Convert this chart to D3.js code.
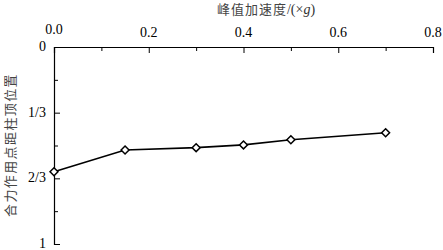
<!DOCTYPE html>
<html>
<head>
<meta charset="utf-8">
<script src="https://cdn.jsdelivr.net/npm/d3@7"></script>
<style>
body { margin: 0; background: #fff; }
svg { display: block; }
.num { font-family: "Liberation Serif", "Times New Roman", "DejaVu Serif", serif; font-size: 14px; }
.cjk { font-family: "Noto Sans CJK SC", sans-serif; font-size: 13px; }
</style>
</head>
<body>
<script>
var accel = [0, 0.15, 0.3, 0.4, 0.5, 0.7];
var position = [0.633, 0.523, 0.511, 0.497, 0.471, 0.435];
var xTicks = [0, 0.2, 0.4, 0.6, 0.8];
var xMinor = [0.1, 0.3, 0.5, 0.7];
var yTicks = [0, 1/3, 2/3, 1];
var yTickLabels = ["0", "1/3", "2/3", "1"];
var yMinor = [1/6, 1/2, 5/6];

var width = 443, height = 250;
var plotLeft = 54, plotRight = 433, plotTop = 47, plotBottom = 244;

var svg = d3.select("body").append("svg").attr("width", width).attr("height", height);

var x = d3.scaleLinear().domain([0, 0.8]).range([plotLeft, plotRight]);
var y = d3.scaleLinear().domain([0, 1]).range([plotTop, plotBottom]);

// x axis on top, ticks pointing in
var xAxisGroup = svg.append("g").attr("transform", "translate(0," + plotTop + ")");
xAxisGroup.call(d3.axisBottom(x).tickValues(xTicks).tickSize(6).tickFormat(""));
xAxisGroup.append("g").call(d3.axisBottom(x).tickValues(xMinor).tickSize(4).tickFormat(""));
xAxisGroup.selectAll("g g .domain").remove();
xAxisGroup.selectAll(".domain").attr("stroke", "#000").attr("stroke-width", 1.2);
xAxisGroup.selectAll("line").attr("stroke", "#000").attr("stroke-width", 1);

svg.append("g").selectAll("text").data(xTicks).enter().append("text")
	.attr("class", "num")
	.attr("x", function(d){return x(d);})
	.attr("y", function(d){return d === 0 ? 34 : 37;})
	.attr("text-anchor", "middle")
	.attr("fill", "#000")
	.text(function(d){return d3.format(".1f")(d);});

// y axis on left, ticks pointing in
var yAxisGroup = svg.append("g").attr("transform", "translate(" + plotLeft + ",0)");
yAxisGroup.call(d3.axisRight(y).tickValues(yTicks).tickSize(6).tickFormat(""));
yAxisGroup.append("g").call(d3.axisRight(y).tickValues(yMinor).tickSize(4).tickFormat(""));
yAxisGroup.selectAll("g g .domain").remove();
yAxisGroup.selectAll(".domain").attr("stroke", "#000").attr("stroke-width", 1.2);
yAxisGroup.selectAll("line").attr("stroke", "#000").attr("stroke-width", 1);

svg.append("g").selectAll("text").data(yTicks).enter().append("text")
	.attr("class", "num")
	.attr("x", 46)
	.attr("y", function(d){return y(d) + 4;})
	.attr("text-anchor", "end")
	.attr("fill", "#000")
	.text(function(d, i){return yTickLabels[i];});

// titles
var xt = svg.append("text").attr("x", 266).attr("y", 14).attr("text-anchor", "middle").attr("fill", "#333");
xt.append("tspan").attr("class", "cjk").attr("letter-spacing", 1).attr("fill", "#444").text("峰值加速度");
xt.append("tspan").attr("class", "num").text("/(×");
xt.append("tspan").attr("class", "num").attr("font-style", "italic").text("g");
xt.append("tspan").attr("class", "num").text(")");

svg.append("text").attr("transform", "translate(15,145) rotate(-90)")
	.attr("class", "cjk")
	.attr("text-anchor", "middle")
	.attr("letter-spacing", 1.4)
	.attr("fill", "#444")
	.text("合力作用点距柱顶位置");

// data line and markers
var pts = accel.map(function(a, i){return [a, position[i]];});
svg.append("path").datum(pts)
	.attr("fill", "none").attr("stroke", "#000").attr("stroke-width", 1.6)
	.attr("d", d3.line().x(function(d){return x(d[0]);}).y(function(d){return y(d[1]);}));

svg.append("g").selectAll("path").data(pts).enter().append("path")
	.attr("transform", function(d){return "translate(" + x(d[0]) + "," + y(d[1]) + ")";})
	.attr("d", d3.symbol().type(d3.symbolDiamond2).size(40))
	.attr("fill", "#fff").attr("stroke", "#000").attr("stroke-width", 1.5);
</script>
</body>
</html>
